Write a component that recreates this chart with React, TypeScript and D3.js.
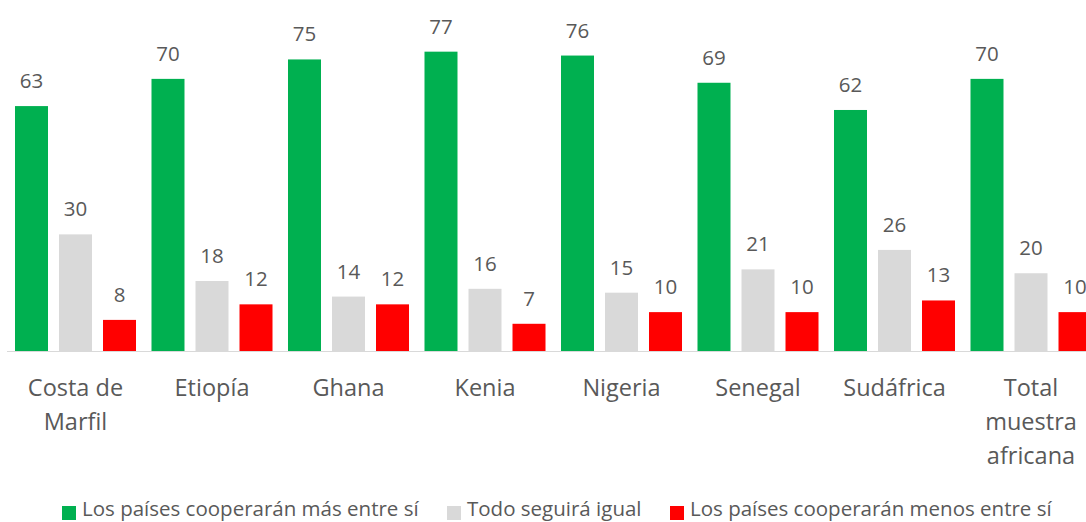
import React from "react";
import * as d3 from "d3";

const categories: string[][] = [
  ["Costa de", "Marfil"],
  ["Etiopía"],
  ["Ghana"],
  ["Kenia"],
  ["Nigeria"],
  ["Senegal"],
  ["Sudáfrica"],
  ["Total", "muestra", "africana"],
];
const seriesNames = [
  "Los países cooperarán más entre sí",
  "Todo seguirá igual",
  "Los países cooperarán menos entre sí",
];
const masEntreSi = [63, 70, 75, 77, 76, 69, 62, 70];
const todoIgual = [30, 18, 14, 16, 15, 21, 26, 20];
const menosEntreSi = [8, 12, 12, 7, 10, 10, 13, 10];
const colors = ["#00b050", "#d9d9d9", "#ff0000"];

const W = 1086;
const H = 522;
const FONT = "'Open Sans', sans-serif";
const TEXT = "#595959";

export default function App() {
  const series = [masEntreSi, todoIgual, menosEntreSi];
  const keys = categories.map((c) => c.join(" "));
  const x0 = d3.scaleBand<string>().domain(keys).range([7.25, 7.25 + 136.5 * 8]).padding(0);
  const x1 = d3
    .scaleBand<number>()
    .domain([0, 1, 2])
    .range([0, x0.bandwidth()])
    .paddingInner(0.25)
    .paddingOuter(0.176);
  const y = d3.scaleLinear().domain([0, 80]).range([351, 40]);

  const legendX = [62, 447, 670];

  return (
    <svg
      width={W}
      height={H}
      style={{ position: "absolute", left: 0, top: 0, background: "#fff" }}
      fontFamily={FONT}
    >
      <rect width={W} height={H} fill="#fff" />
      {keys.map((k, i) => (
        <g key={k} transform={`translate(${x0(k)},0)`}>
          {series.map((s, j) => (
            <g key={j}>
              <rect
                x={x1(j)}
                y={y(s[i])}
                width={x1.bandwidth()}
                height={y(0) - y(s[i])}
                fill={colors[j]}
              />
              <text
                x={(x1(j) as number) + x1.bandwidth() / 2}
                y={y(s[i]) - 18}
                textAnchor="middle"
                fontSize={20.5}
                fill={TEXT}
              >
                {s[i]}
              </text>
            </g>
          ))}
          {categories[i].map((line, li) => (
            <text
              key={li}
              x={x0.bandwidth() / 2}
              y={396 + li * 34}
              textAnchor="middle"
              fontSize={23.5}
              fill={TEXT}
            >
              {line}
            </text>
          ))}
        </g>
      ))}
      <line x1={7} x2={W} y1={351.5} y2={351.5} stroke="#d9d9d9" strokeWidth={1} />
      {seriesNames.map((n, j) => (
        <g key={n}>
          <rect x={legendX[j]} y={506} width={14} height={14} fill={colors[j]} />
          <text x={legendX[j] + 20} y={516} fontSize={20.5} fill={TEXT}>
            {n}
          </text>
        </g>
      ))}
    </svg>
  );
}
